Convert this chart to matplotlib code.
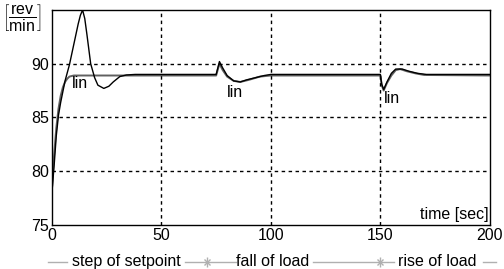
import matplotlib.pyplot as plt
import matplotlib.transforms as mtransforms

plt.rcParams['font.family'] = ['Liberation Sans', 'DejaVu Sans']
plt.rcParams['mathtext.fontset'] = 'custom'
plt.rcParams['mathtext.rm'] = 'Liberation Sans'
plt.rcParams['mathtext.sf'] = 'Liberation Sans'

# response with large overshoot
t_osc = [0, 1, 2, 3, 4, 6, 8, 10, 12, 13, 14, 15, 16, 17.7, 19.5, 21, 23.7, 26, 28, 31,
         34, 38, 50, 75, 76.5, 78, 80, 83, 86, 89, 93, 97, 100, 120, 150, 150.6, 151.5,
         153, 155, 157, 160, 163, 167, 171, 180, 200]
v_osc = [78.0, 80.5, 83.3, 85.2, 86.4, 88.4, 89.9, 91.8, 93.7, 94.5, 95.0, 94.2, 92.7, 90.0,
         88.7, 88.0, 87.7, 87.9, 88.3, 88.8, 88.95, 89.0, 89.0, 89.0, 90.2, 89.6, 88.9, 88.4,
         88.3, 88.5, 88.7, 88.9, 89.0, 89.0, 89.0, 88.1, 87.6, 88.3, 89.1, 89.5, 89.5, 89.3,
         89.1, 89.0, 89.0, 89.0]

# linearised ("lin") response
t_lin = [0, 0.5, 1, 2, 3, 4, 5, 6, 7, 8, 10, 75, 76.5, 78, 80, 83, 86, 90, 95, 100, 150,
         150.6, 151.5, 153, 155, 157, 159, 162, 166, 170, 200]
v_lin = [78.3, 80.0, 81.5, 84.0, 85.8, 87.0, 87.8, 88.3, 88.6, 88.8, 88.9, 88.9, 90.0, 89.4,
         88.8, 88.4, 88.3, 88.5, 88.8, 88.9, 88.9, 88.0, 87.5, 88.2, 88.9, 89.4, 89.5, 89.3,
         89.1, 88.95, 88.9]

xticks = [0, 50, 100, 150, 200]
yticks = [75, 80, 85, 90]
phase_labels = ['step of setpoint', 'fall of load', 'rise of load']
phase_centers = [34, 101, 176]
phase_marks = [71, 150]

fig = plt.figure(figsize=(5.04, 2.69), dpi=100)
ax = fig.add_axes([0.103, 0.164, 0.869, 0.799])

ax.plot(t_lin, v_lin, color='#606060', lw=1.4)
ax.plot(t_osc, v_osc, color='black', lw=1.0)

ax.set_xlim(0, 200)
ax.set_ylim(75, 95)
ax.set_xticks(xticks)
ax.set_yticks(yticks)
ax.tick_params(length=0, labelsize=11.5, pad=2)
for x in [50, 100, 150]:
    ax.axvline(x, color='black', lw=1, ls=(0, (2.5, 2.5)))
for y in [80, 85, 90]:
    ax.axhline(y, color='black', lw=1, ls=(0, (2.5, 2.5)))
for s in ax.spines.values():
    s.set_linewidth(1.0)

ax.text(9, 88.2, 'lin', fontsize=11.5, va='center')
ax.text(80, 87.3, 'lin', fontsize=11.5, va='center')
ax.text(151.5, 86.8, 'lin', fontsize=11.5, va='center')
ax.text(0.997, 0.015, 'time [sec]', transform=ax.transAxes, ha='right', va='bottom', fontsize=11.5)

fig.text(0.004, 0.99, r'$\left[\dfrac{\mathrm{rev}}{\mathrm{min}}\right]$', ha='left', va='top',
         fontsize=11.5)

# phase legend underneath the axis
trans = mtransforms.blended_transform_factory(ax.transData, ax.transAxes)
ly = -0.172
gray = '#b0b0b0'
segs = [(-2, 7), (61, 84), (119, 156), (197, 203)]
for a, b in segs:
    ax.plot([a, b], [ly, ly], color=gray, lw=1, transform=trans, clip_on=False)
for m in phase_marks:
    ax.plot([m], [ly], marker='|', ms=7, color=gray, transform=trans, clip_on=False)
    ax.plot([m], [ly], marker='x', ms=4, color=gray, transform=trans, clip_on=False)
for lab, c in zip(phase_labels, phase_centers):
    ax.text(c, ly, lab, transform=trans, ha='center', va='center', fontsize=11.5)

fig.savefig('out.png', dpi=100)
